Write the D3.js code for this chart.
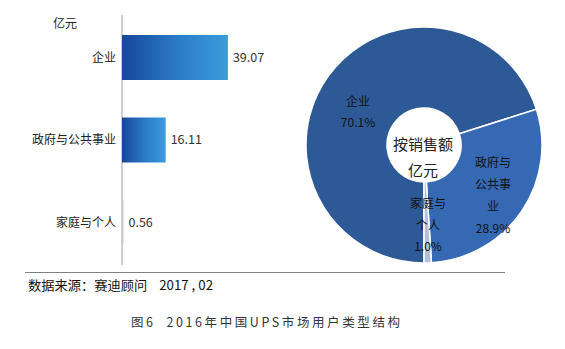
<!DOCTYPE html>
<html><head><meta charset="utf-8">
<script src="https://cdn.jsdelivr.net/npm/d3@7"></script>
<style>body{margin:0;background:#fff}svg{display:block}text{white-space:pre}</style>
</head><body>
<svg id="c" width="565" height="349"></svg>
<script>
const categories = ["企业", "政府与公共事业", "家庭与个人"];
const values = [39.07, 16.11, 0.56];
const valueLabels = ["39.07", "16.11", "0.56"];
const pieLabels = [["企业", "70.1%"], ["政府与", "公共事", "业", "28.9%"], ["家庭与", "个人", "1.0%"]];
const unitLabel = "亿元";
const centerLabel = ["按销售额", "亿元"];
const sourceText = "数据来源：赛迪顾问    2017 , 02";
const captionText = "图6  2016年中国UPS市场用户类型结构";

const FONT = "'Noto Sans CJK SC', 'Noto Sans', sans-serif";
const svg = d3.select("#c");
const defs = svg.append("defs");
const grad = defs.append("linearGradient").attr("id", "barGrad").attr("x1", "0").attr("x2", "1").attr("y1", "0").attr("y2", "0");
grad.append("stop").attr("offset", "0%").attr("stop-color", "#17469a");
grad.append("stop").attr("offset", "50%").attr("stop-color", "#2b79c6");
grad.append("stop").attr("offset", "100%").attr("stop-color", "#3a9ddc");

// Bar chart
const x = d3.scaleLinear().domain([0, 45]).range([122, 244]);
const y = d3.scaleBand().domain(categories).range([16.25, 263.75]).paddingInner(0.4545).paddingOuter(0.2273);

svg.append("line").attr("x1", 122).attr("x2", 122).attr("y1", 15).attr("y2", 265)
  .attr("stroke", "#a0a0a0").attr("stroke-width", 1);

svg.selectAll("rect.bar").data(values).join("rect").attr("class", "bar")
  .attr("x", x(0)).attr("y", (d, i) => y(categories[i]))
  .attr("width", d => x(d) - x(0)).attr("height", y.bandwidth())
  .attr("fill", (d, i) => i === 2 ? "#c8ccd4" : "url(#barGrad)");

svg.selectAll("text.cat").data(categories).join("text").attr("class", "cat")
  .attr("x", 116).attr("y", d => y(d) + y.bandwidth() / 2)
  .attr("dy", "0.35em").attr("text-anchor", "end")
  .attr("font-family", FONT).attr("font-size", 12).attr("fill", "#222").text(d => d);

svg.selectAll("text.val").data(values).join("text").attr("class", "val")
  .attr("x", d => x(d) + 5).attr("y", (d, i) => y(categories[i]) + y.bandwidth() / 2)
  .attr("dy", "0.35em").attr("font-family", FONT).attr("font-size", 12.5).attr("fill", "#333")
  .text((d, i) => valueLabels[i]);

svg.append("text").attr("x", 53).attr("y", 28).attr("font-family", FONT).attr("font-size", 12)
  .attr("fill", "#222").text(unitLabel);

// Donut
const cx = 424, cy = 145, R = 118, r0 = 37;
const pie = d3.pie().sort(null).startAngle(Math.PI).endAngle(3 * Math.PI);
const arcs = pie(values);
const arc = d3.arc().innerRadius(r0).outerRadius(R);
const colors = ["#2d5a97", "#3669b3", "#b3c0dc"];
const g = svg.append("g").attr("transform", `translate(${cx},${cy})`);
g.selectAll("path").data(arcs).join("path").attr("d", arc)
  .attr("fill", (d, i) => colors[i]).attr("stroke", "#fff").attr("stroke-width", 1.5);

const labelPos = [[-66, -43], [69, 18], [4, 59]];
const lineH = [21, 22, 21.5];
arcs.forEach((a, i) => {
  const lines = pieLabels[i];
  lines.forEach((t, j) => {
    g.append("text").attr("x", labelPos[i][0]).attr("y", labelPos[i][1] + j * lineH[i])
      .attr("text-anchor", "middle").attr("dy", "0.35em")
      .attr("font-family", FONT).attr("font-size", 12).attr("fill", "#111").text(t);
  });
});
centerLabel.forEach((t, j) => {
  g.append("text").attr("x", -1).attr("y", j * 26).attr("text-anchor", "middle").attr("dy", "0.35em")
    .attr("font-family", FONT).attr("font-size", 15).attr("fill", "#222").text(t);
});

// Footer
svg.append("line").attr("x1", 25).attr("x2", 505).attr("y1", 272.5).attr("y2", 272.5)
  .attr("stroke", "#808080").attr("stroke-width", 1.2);
svg.append("text").attr("x", 28).attr("y", 290).attr("font-family", FONT).attr("font-size", 13)
  .attr("fill", "#111").attr("textLength", 185).attr("lengthAdjust", "spacingAndGlyphs").text(sourceText);
svg.append("text").attr("x", 131).attr("y", 327).attr("font-family", FONT).attr("font-size", 12.5)
  .attr("fill", "#333").attr("textLength", 269).attr("lengthAdjust", "spacing").text(captionText);
</script>
</body></html>
